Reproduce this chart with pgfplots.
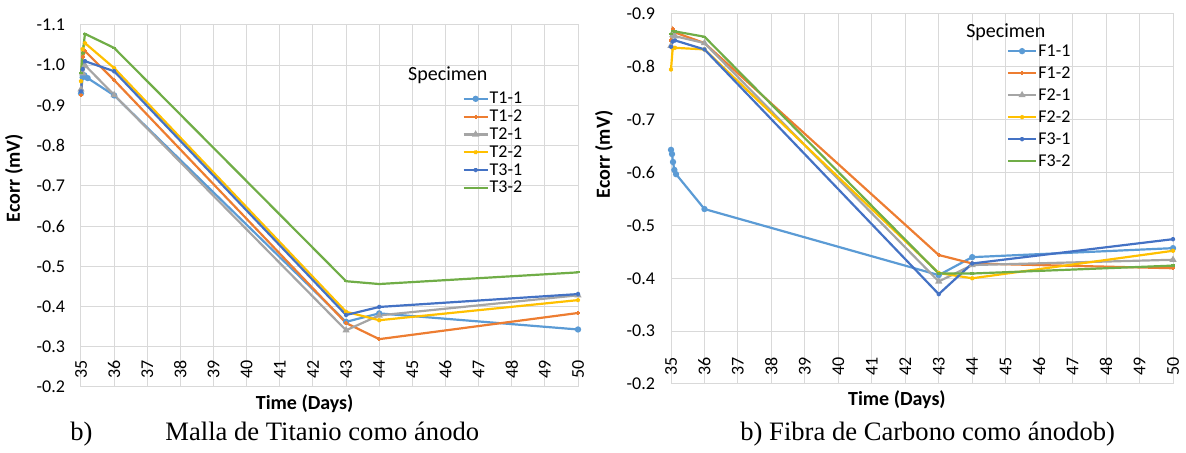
\documentclass[border=0pt]{standalone}
\usepackage{fontspec}
\setmainfont{Liberation Serif}
\newfontfamily\calibri{Carlito}
\usepackage{pgfplots}
\pgfplotsset{compat=1.18}

\definecolor{xblue}{HTML}{5B9BD5}
\definecolor{xorange}{HTML}{ED7D31}
\definecolor{xgray}{HTML}{A5A5A5}
\definecolor{xgold}{HTML}{FFC000}
\definecolor{xdblue}{HTML}{4472C4}
\definecolor{xgreen}{HTML}{70AD47}
\definecolor{gridc}{HTML}{D9D9D9}

\pgfplotsset{
  ecorr/.style={
    scale only axis,
    anchor=south west,
    font=\calibri\fontsize{9}{10}\selectfont,
    /pgf/number format/assume math mode=true,
    xmin=35, xmax=50,
    xtick={35,36,...,50},
    y dir=reverse,
    ymax=-0.2,
    ytick distance=0.1,
    yticklabel style={xshift=-4.5pt, /pgf/number format/.cd, fixed, fixed zerofill, precision=1},
    xticklabel style={rotate=90, anchor=east},
    xticklabel shift=-17pt,
    major tick length=0pt,
    grid=major,
    grid style={gridc, line width=0.5pt},
    axis line style={gridc, line width=0.5pt},
    clip=false,
    xlabel={\bfseries Time (Days)},
    ylabel={\bfseries Ecorr (mV)},
    label style={font=\calibri\bfseries\fontsize{10}{11}\selectfont},
    legend cell align=left,
    legend style={draw=none, fill=none, font=\calibri\fontsize{9}{10}\selectfont,
      anchor=north west, inner sep=0pt,
      nodes={inner sep=0.5pt, text height=6.5pt, text depth=1.5pt},
      /tikz/every even column/.append style={column sep=1pt}},
    every axis plot/.append style={line width=1.1pt, mark size=1pt},
  },
}

\begin{document}
\begin{tikzpicture}
\path[use as bounding box] (0,0) rectangle (593pt,226.5pt);

% left: titanium mesh
\begin{axis}[ecorr,
  at={(40.5pt,33pt)}, width=248.5pt, height=181pt,
  ymin=-1.1,
  xlabel style={at={(rel axis cs:0.45,0)}, anchor=north, yshift=-2.5pt, inner sep=1pt},
  ylabel style={at={(ticklabel cs:0.577)}},
  legend style={at={(rel axis cs:0.767,0.822)}, row sep=-0.1pt},
  legend image code/.code={\draw[mark repeat=2,mark phase=2] plot coordinates {(0cm,0cm) (0.21cm,0cm) (0.42cm,0cm)};},
]
\addplot[xblue, mark=*] coordinates {(35,-0.93) (35.05,-0.97) (35.1,-0.975) (35.2,-0.968) (36,-0.925) (43,-0.362) (44,-0.383) (50,-0.343)};
\addlegendentry{T1-1}
\addplot[xorange, mark=+] coordinates {(35,-0.925) (35.05,-1.02) (35.12,-1.035) (36,-0.963) (43,-0.359) (44,-0.319) (50,-0.384)};
\addlegendentry{T1-2}
\addplot[xgray, mark=triangle*] coordinates {(35,-0.94) (35.05,-0.98) (35.12,-1.0) (36,-0.926) (43,-0.341) (44,-0.378) (50,-0.428)};
\addlegendentry{T2-1}
\addplot[xgold, mark=x] coordinates {(35,-0.96) (35.05,-1.04) (35.12,-1.055) (36,-0.993) (43,-0.387) (44,-0.366) (50,-0.416)};
\addlegendentry{T2-2}
\addplot[xdblue, mark=star] coordinates {(35,-0.935) (35.05,-0.99) (35.12,-1.01) (36,-0.985) (43,-0.379) (44,-0.399) (50,-0.431)};
\addlegendentry{T3-1}
\addplot[xgreen, mark=-] coordinates {(35,-0.98) (35.05,-1.03) (35.12,-1.078) (36,-1.043) (43,-0.463) (44,-0.456) (50,-0.485)};
\addlegendentry{T3-2}
\node[font=\calibri\fontsize{10}{11}\selectfont] at (rel axis cs:0.738,0.862) {Specimen};
\end{axis}

% right: carbon fibre
\begin{axis}[ecorr,
  at={(335.5pt,34.5pt)}, width=251pt, height=185pt,
  ymin=-0.9,
  xlabel style={at={(rel axis cs:0.45,0)}, anchor=north, yshift=-2pt, inner sep=1pt},
  ylabel style={at={(ticklabel cs:0.62)}},
  legend style={at={(rel axis cs:0.668,0.925)}, row sep=2pt},
  legend image code/.code={\draw[mark repeat=2,mark phase=2] plot coordinates {(0cm,0cm) (0.25cm,0cm) (0.5cm,0cm)};},
]
\addplot[xblue, mark=*] coordinates {(35,-0.643) (35.03,-0.635) (35.06,-0.62) (35.1,-0.605) (35.15,-0.597) (36,-0.531) (43,-0.406) (44,-0.440) (50,-0.457)};
\addlegendentry{F1-1}
\addplot[xorange, mark=+] coordinates {(35,-0.85) (35.05,-0.872) (35.12,-0.865) (36,-0.845) (43,-0.444) (44,-0.428) (50,-0.419)};
\addlegendentry{F1-2}
\addplot[xgray, mark=triangle*] coordinates {(35,-0.84) (35.05,-0.86) (35.12,-0.858) (36,-0.845) (43,-0.394) (44,-0.425) (50,-0.435)};
\addlegendentry{F2-1}
\addplot[xgold, mark=x] coordinates {(35,-0.795) (35.05,-0.835) (35.12,-0.836) (36,-0.833) (43,-0.410) (44,-0.400) (50,-0.452)};
\addlegendentry{F2-2}
\addplot[xdblue, mark=star] coordinates {(35,-0.838) (35.05,-0.848) (35.12,-0.85) (36,-0.833) (43,-0.370) (44,-0.428) (50,-0.474)};
\addlegendentry{F3-1}
\addplot[xgreen, mark=-] coordinates {(35,-0.862) (35.05,-0.868) (35.12,-0.867) (36,-0.857) (43,-0.409) (44,-0.409) (50,-0.424)};
\addlegendentry{F3-2}
\node[font=\calibri\fontsize{10}{11}\selectfont] at (rel axis cs:0.667,0.951) {Specimen};
\end{axis}

% captions
\node[anchor=base west, font=\fontsize{13.3}{15}\selectfont, inner sep=0pt] at (35pt,6pt) {b)};
\node[anchor=base west, font=\fontsize{13.3}{15}\selectfont, inner sep=0pt] at (82.5pt,6pt) {Malla de Titanio como ánodo};
\node[anchor=base west, font=\fontsize{13.3}{15}\selectfont, inner sep=0pt] at (370pt,6pt) {b) Fibra de Carbono como ánodob)};
\end{tikzpicture}
\end{document}
